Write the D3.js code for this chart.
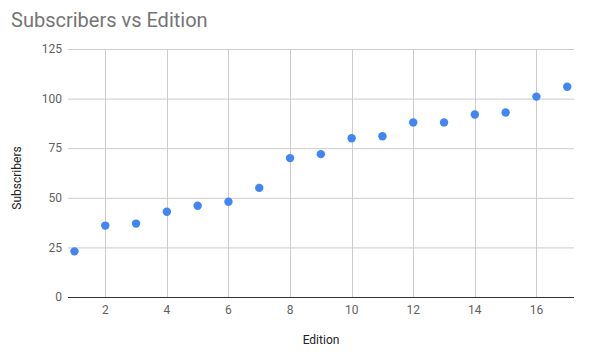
<!doctype html>
<html>
<head>
<style>
body { margin: 0; background: #fff; }
text { font-family: Roboto, "Noto Sans", sans-serif; }
</style>
<script src="https://d3js.org/d3.v7.min.js"></script>
</head>
<body>
<svg width="591" height="353"></svg>
<script>
var editions = [1, 2, 3, 4, 5, 6, 7, 8, 9, 10, 11, 12, 13, 14, 15, 16, 17];
var subscribers = [23, 36, 37, 43, 46, 48, 55, 70, 72, 80, 81, 88, 88, 92, 93, 101, 106];
var xTicks = [2, 4, 6, 8, 10, 12, 14, 16];
var yTicks = [0, 25, 50, 75, 100, 125];

var svg = d3.select("svg");
var plotLeft = 68, plotRight = 574, plotTop = 49, plotBottom = 297;

var x = d3.scaleLinear().domain([0.79, 17.22]).range([plotLeft, plotRight]);
var y = d3.scaleLinear().domain([0, 125]).range([plotBottom, plotTop]);

svg.append("text").attr("x", 11).attr("y", 27)
	.attr("font-size", "20px").attr("fill", "#757575")
	.text("Subscribers vs Edition");

// horizontal grid
svg.append("g").selectAll("line").data(yTicks.filter(function(d) { return d > 0; }))
	.enter().append("line")
	.attr("x1", plotLeft).attr("x2", plotRight)
	.attr("y1", function(d) { return y(d) + 0.5; })
	.attr("y2", function(d) { return y(d) + 0.5; })
	.attr("stroke", "#cccccc");

// vertical grid
svg.append("g").selectAll("line").data(xTicks)
	.enter().append("line")
	.attr("x1", function(d) { return Math.round(x(d)) + 0.5; })
	.attr("x2", function(d) { return Math.round(x(d)) + 0.5; })
	.attr("y1", plotTop).attr("y2", plotBottom)
	.attr("stroke", "#cccccc");

// baseline
svg.append("line").attr("x1", plotLeft).attr("x2", plotRight)
	.attr("y1", y(0) + 0.5).attr("y2", y(0) + 0.5)
	.attr("stroke", "#333333");

// y labels
svg.append("g").selectAll("text").data(yTicks)
	.enter().append("text")
	.attr("x", 62).attr("y", function(d) { return y(d); })
	.attr("dy", "0.35em").attr("text-anchor", "end")
	.attr("font-size", "12px").attr("fill", "#5f5f5f")
	.text(function(d) { return d; });

// x labels
svg.append("g").selectAll("text").data(xTicks)
	.enter().append("text")
	.attr("x", function(d) { return x(d); }).attr("y", 310)
	.attr("dy", "0.35em").attr("text-anchor", "middle")
	.attr("font-size", "12px").attr("fill", "#5f5f5f")
	.text(function(d) { return d; });

svg.append("text").attr("x", (plotLeft + plotRight) / 2).attr("y", 340)
	.attr("dy", "0.35em").attr("text-anchor", "middle")
	.attr("font-size", "12px").attr("fill", "#222")
	.text("Edition");

svg.append("text").attr("transform", "translate(17,178) rotate(-90)")
	.attr("dy", "0.35em").attr("text-anchor", "middle")
	.attr("font-size", "12px").attr("fill", "#222")
	.text("Subscribers");

svg.append("g").selectAll("circle").data(editions)
	.enter().append("circle")
	.attr("cx", function(d) { return x(d); })
	.attr("cy", function(d, i) { return y(subscribers[i]); })
	.attr("r", 4.2)
	.attr("fill", "#4285f4");
</script>
</body>
</html>
